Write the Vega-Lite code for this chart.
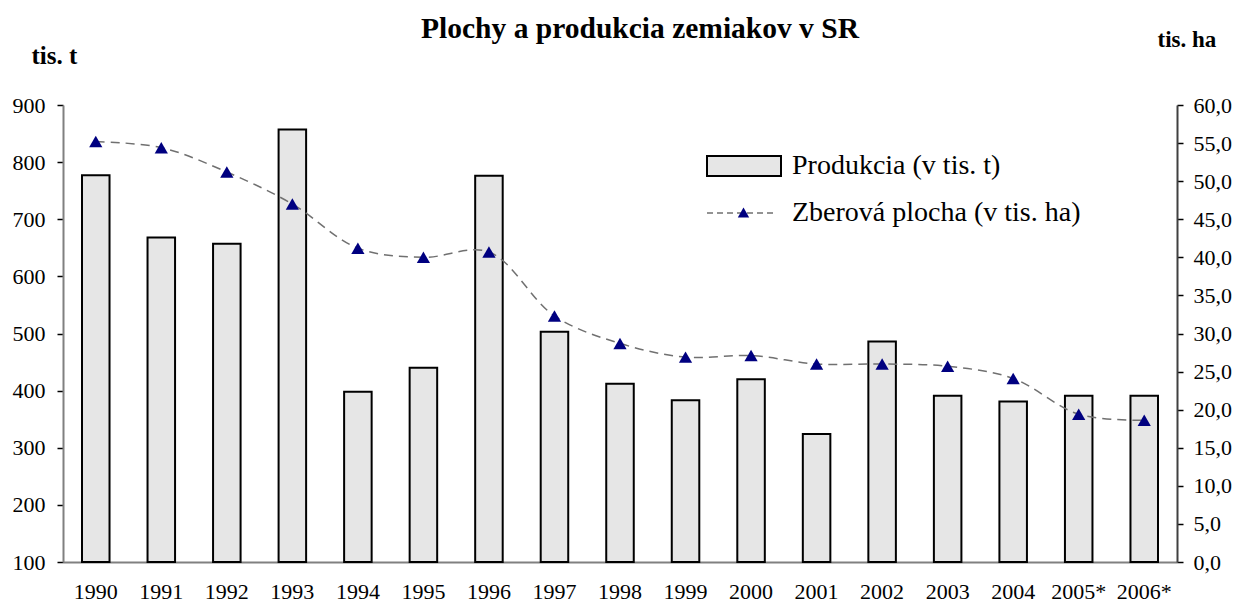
{
  "$schema": "https://vega.github.io/schema/vega-lite/v6.json",
  "width": 1114,
  "height": 457,
  "autosize": {"type": "none"},
  "padding": {"left": 63, "top": 105, "right": 61, "bottom": 40},
  "background": "white",
  "config": {
    "view": {"stroke": null},
    "font": "Liberation Serif",
    "axis": {"labelFont": "Liberation Serif", "titleFont": "Liberation Serif", "labelColor": "black", "titleColor": "black"}
  },
  "title": {
    "text": "Plochy a produkcia zemiakov v SR",
    "font": "Liberation Serif",
    "fontSize": 29.5,
    "fontWeight": "bold",
    "color": "black",
    "anchor": "middle",
    "baseline": "alphabetic",
    "offset": -39,
    "dx": 20
  },
  "data": {
    "values": [
      {"year": "1990", "prod": 777, "area": 55.2},
      {"year": "1991", "prod": 668, "area": 54.4},
      {"year": "1992", "prod": 657, "area": 51.2},
      {"year": "1993", "prod": 857, "area": 47.0},
      {"year": "1994", "prod": 398, "area": 41.2},
      {"year": "1995", "prod": 440, "area": 40.0},
      {"year": "1996", "prod": 776, "area": 40.7},
      {"year": "1997", "prod": 503, "area": 32.3},
      {"year": "1998", "prod": 412, "area": 28.7},
      {"year": "1999", "prod": 383, "area": 26.9},
      {"year": "2000", "prod": 420, "area": 27.1},
      {"year": "2001", "prod": 324, "area": 26.0},
      {"year": "2002", "prod": 486, "area": 26.0},
      {"year": "2003", "prod": 391, "area": 25.7},
      {"year": "2004", "prod": 381, "area": 24.1},
      {"year": "2005*", "prod": 391, "area": 19.4},
      {"year": "2006*", "prod": 391, "area": 18.6}
    ]
  },
  "encoding": {
    "x": {
      "field": "year",
      "type": "nominal",
      "sort": null,
      "scale": {"paddingInner": 0.58, "paddingOuter": 0.29},
      "axis": {
        "title": null,
        "labelAngle": 0,
        "labelFontSize": 22,
        "ticks": false,
        "labelPadding": 19,
        "domainColor": "#808080",
        "domainWidth": 2
      }
    }
  },
  "layer": [
    {
      "mark": {"type": "bar", "stroke": "black", "strokeWidth": 2},
      "encoding": {
        "y": {
          "field": "prod",
          "type": "quantitative",
          "scale": {"domain": [100, 900], "zero": false, "nice": false},
          "axis": {
            "values": [100, 200, 300, 400, 500, 600, 700, 800, 900],
            "grid": false,
            "labelFontSize": 22,
            "tickSize": 6,
            "tickColor": "black",
            "tickWidth": 1.5,
            "labelPadding": 12,
            "domainColor": "#808080",
            "domainWidth": 2,
            "title": "tis. t",
            "titleAngle": 0,
            "titleFontSize": 25,
            "titleFontWeight": "bold",
            "titleAlign": "left",
            "titleBaseline": "alphabetic",
            "titleX": -32,
            "titleY": -42
          }
        },
        "y2": {"datum": 100},
        "fill": {
          "datum": "Produkcia (v tis. t)",
          "type": "nominal",
          "scale": {"range": ["#e6e6e6"]},
          "legend": {
            "title": null,
            "orient": "none",
            "legendX": 643,
            "legendY": 23,
            "padding": 0,
            "symbolType": "M-1,-0.27H1V0.27H-1Z",
            "symbolSize": 5476,
            "symbolStrokeColor": "black",
            "symbolStrokeWidth": 2,
            "symbolOpacity": 1,
            "labelFont": "Liberation Serif",
            "labelFontSize": 28,
            "labelColor": "black",
            "labelOffset": 10,
            "labelLimit": 400
          }
        }
      }
    },
    {
      "encoding": {
        "y": {
          "field": "area",
          "type": "quantitative",
          "scale": {"domain": [0, 60], "nice": false},
          "axis": {
            "orient": "right",
            "values": [0, 5, 10, 15, 20, 25, 30, 35, 40, 45, 50, 55, 60],
            "labelExpr": "replace(format(datum.value, '.1f'), '.', ',')",
            "grid": false,
            "labelFontSize": 22,
            "tickSize": 6,
            "tickColor": "black",
            "tickWidth": 1.5,
            "labelPadding": 10,
            "domainColor": "#404040",
            "domainWidth": 2,
            "title": "tis. ha",
            "titleAngle": 0,
            "titleFontSize": 23,
            "titleFontWeight": "bold",
            "titleAlign": "left",
            "titleBaseline": "alphabetic",
            "titleX": -20,
            "titleY": -59
          }
        }
      },
      "layer": [
        {
          "mark": {"type": "line", "interpolate": "catmull-rom", "strokeDash": [9, 6], "strokeWidth": 1.5},
          "encoding": {
            "stroke": {
              "datum": "Zberová plocha (v tis. ha)",
              "type": "nominal",
              "scale": {"range": ["#707070"]},
              "legend": {
                "title": null,
                "orient": "none",
                "legendX": 643,
                "legendY": 72,
                "padding": 0,
                "symbolType": "stroke",
                "symbolSize": 4900,
                "symbolDash": [6, 4],
                "symbolStrokeWidth": 1.5,
                "labelFont": "Liberation Serif",
                "labelFontSize": 28,
                "labelColor": "black",
                "labelOffset": 14,
                "labelLimit": 400
              }
            }
          }
        },
        {
          "mark": {"type": "point", "filled": true, "color": "#000080", "opacity": 1, "size": 175},
          "encoding": {
            "shape": {
              "datum": "triangle marker",
              "type": "nominal",
              "scale": {"range": ["triangle-up"]},
              "legend": {
                "title": null,
                "orient": "none",
                "legendX": 674,
                "legendY": 101,
                "padding": 0,
                "symbolSize": 130,
                "symbolFillColor": "#000080",
                "symbolStrokeColor": "#000080",
                "symbolOpacity": 1,
                "labelExpr": "''",
                "labelFontSize": 1
              }
            }
          }
        }
      ]
    }
  ],
  "resolve": {"scale": {"y": "independent"}}
}
